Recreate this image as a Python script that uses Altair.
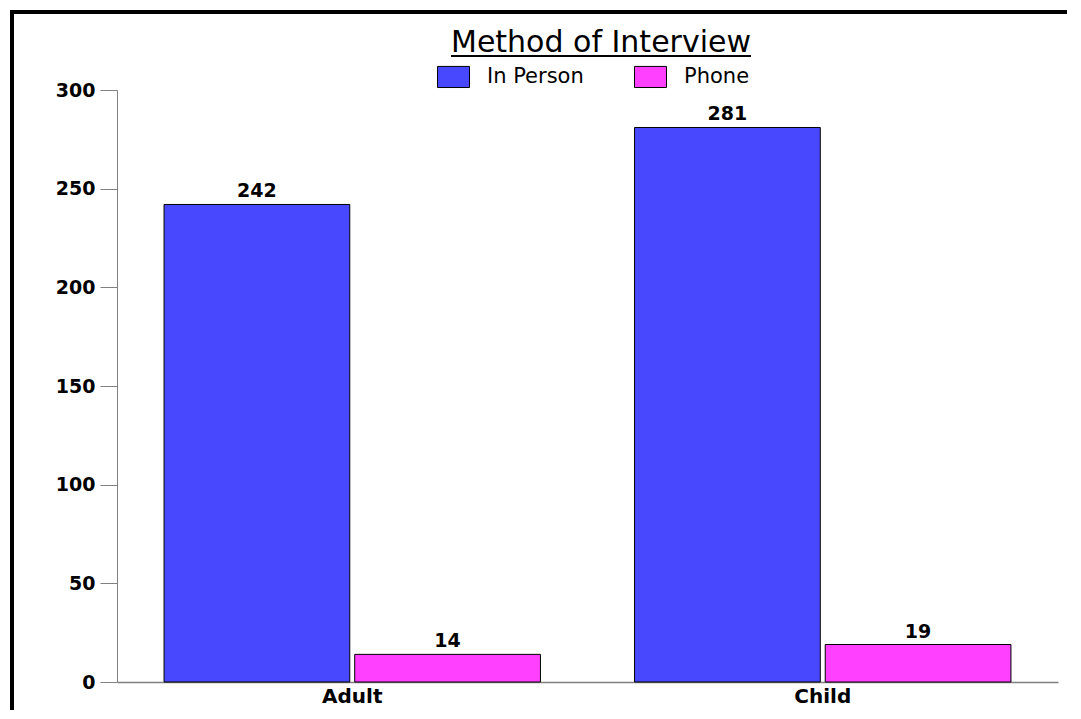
import altair as alt
import pandas as pd

groups = ["Adult", "Child"]
methods = ["In Person", "Phone"]
in_person = [242, 281]
phone = [14, 19]
colors = ["#4848FF", "#FF40FF"]
y_ticks = [0, 50, 100, 150, 200, 250, 300]
title_text = "Method of Interview"

rows = []
for g, a, b in zip(groups, in_person, phone):
    rows.append({"group": g, "method": methods[0], "count": a})
    rows.append({"group": g, "method": methods[1], "count": b})
df = pd.DataFrame(rows)

FONT = "DejaVu Sans"

x_enc = alt.X("group:N", sort=groups, title=None,
              scale=alt.Scale(paddingInner=0.2, paddingOuter=0.1),
              axis=alt.Axis(labelAngle=0, labelFont=FONT, labelFontSize=20,
                            labelFontWeight="bold", labelColor="black",
                            ticks=False, tickSize=0, labelPadding=4,
                            domainColor="#808080", domainWidth=1.5))
xo_enc = alt.XOffset("method:N", sort=methods,
                     scale=alt.Scale(paddingInner=0.026, paddingOuter=0))
y_enc = alt.Y("count:Q", title=None,
              scale=alt.Scale(domain=[0, 300], nice=False),
              axis=alt.Axis(values=y_ticks, grid=False, labelFont=FONT,
                            labelFontSize=19, labelFontWeight="bold",
                            labelColor="black", tickSize=17, tickColor="#808080",
                            domainColor="#808080", labelPadding=5))
color_enc = alt.Color("method:N", sort=methods,
                      scale=alt.Scale(domain=methods, range=colors),
                      legend=alt.Legend(orient="none", legendX=320, legendY=-30,
                                        direction="horizontal", title=None,
                                        symbolType="M-1,-0.66L1,-0.66L1,0.66L-1,0.66Z",
                                        symbolSize=1024, symbolStrokeColor="black",
                                        symbolStrokeWidth=1, symbolOpacity=1,
                                        labelFont=FONT, labelFontSize=21,
                                        labelColor="black", labelOffset=17,
                                        columnPadding=48, padding=0))

base = alt.Chart(df)

bars = base.mark_bar(stroke="black", strokeWidth=1, opacity=1).encode(
    x=x_enc, xOffset=xo_enc, y=y_enc, color=color_enc
)

labels = base.mark_text(font=FONT, fontSize=19, fontWeight="bold", color="black",
                        baseline="alphabetic", dy=-7).encode(
    x=alt.X("group:N", sort=groups), xOffset=alt.XOffset("method:N", sort=methods),
    y="count:Q", text="count:Q"
)

one = alt.Chart(pd.DataFrame({"t": [title_text]}))
border_left = one.mark_rule(color="black", strokeWidth=4).encode(
    x=alt.value(-105), y=alt.value(-80), y2=alt.value(620))
border_top = one.mark_rule(color="black", strokeWidth=4).encode(
    x=alt.value(-107), x2=alt.value(950), y=alt.value(-78))
title = one.mark_text(font=FONT, fontSize=30, color="black", align="center",
                      baseline="alphabetic").encode(
    x=alt.value(484), y=alt.value(-38), text="t:N")
underline = one.mark_rule(color="black", strokeWidth=2).encode(
    x=alt.value(334), x2=alt.value(634), y=alt.value(-34))

chart = alt.layer(bars, labels, border_left, border_top, title, underline).properties(
    width=941, height=592,
    padding=0,
).configure_view(strokeWidth=0)

chart.save("out.html", embed_options={"renderer": "svg", "actions": False})
